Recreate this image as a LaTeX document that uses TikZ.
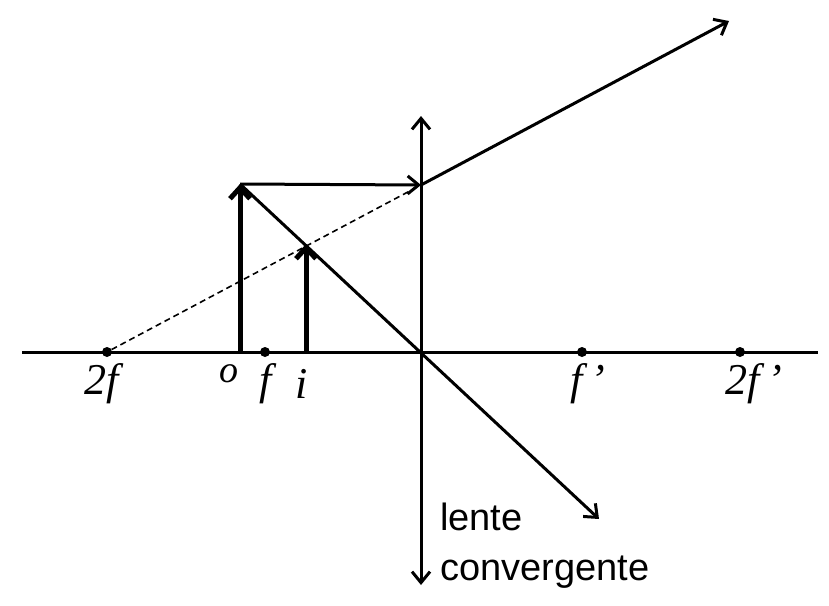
\documentclass[tikz,border=0pt]{standalone}
\usepackage{fontspec}
\setmainfont{Liberation Serif}
\newfontfamily\lab{Liberation Sans}
\usetikzlibrary{arrows.meta}
\begin{document}
\begin{tikzpicture}[x=1pt,y=-1pt,
  ln/.style={line width=3pt},
  arr/.style={ln,-{Straight Barb[length=11pt,width=18pt]}},
  obj/.style={line width=5pt,-{Straight Barb[length=11pt,width=20pt]}},
  dot/.style={circle,fill,inner sep=0pt,minimum size=10pt},
  lbl/.style={font=\itshape\fontsize{44}{44}\selectfont}]
\useasboundingbox (0,0) rectangle (829,605);
\coordinate (axL) at (22,352); \coordinate (axR) at (818,352);
\coordinate (O) at (421,352);
\coordinate (lt) at (421,116); \coordinate (lb) at (421,585);
\node[dot] (f2) at (107,352) {};
\node[dot] (f1) at (265,352) {};
\node[dot] (fp) at (582,352) {};
\node[dot] (fp2) at (740,352) {};
\coordinate (ob) at (240,352); \coordinate (ot) at (240,184);
\coordinate (ib) at (306,352); \coordinate (it) at (306,244);
\coordinate (L) at (421,185);
\coordinate (e1) at (729,21); \coordinate (e2) at (599,519);
\draw[ln] (axL) -- (axR);
\draw[arr] (O) -- (lt);
\draw[arr] (O) -- (lb);
\draw[obj] (ob) -- (ot);
\draw[obj] (ib) -- (it);
\draw[arr] (ot) -- (L);
\draw[arr] (L) -- (e1);
\draw[arr] (ot) -- (e2);
\draw[line width=1.6pt,dash pattern=on 6pt off 4pt] (f2) -- (L);
\node[lbl] (t1) at (102,384) {2f};
\node[lbl,font=\itshape\fontsize{38}{38}\selectfont] (t2) at (229,374) {o};
\node[lbl] (t3) at (266,384) {f};
\node[lbl] (t4) at (302,384) {i};
\node[lbl] (t5) at (588,384) {f\,'};
\node[lbl] (t6) at (754,384) {2f\,'};
\node[font=\lab\fontsize{38}{50}\selectfont,align=left,anchor=north west,inner sep=0pt] (lc) at (440,503) {lente\\convergente};
\end{tikzpicture}
\end{document}
